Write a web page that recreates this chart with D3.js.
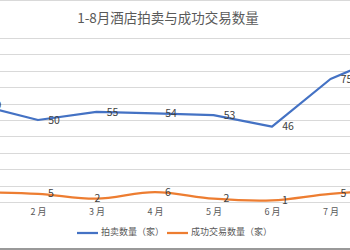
<!DOCTYPE html>
<html><head><meta charset="utf-8">
<script src="https://cdn.jsdelivr.net/npm/d3@7"></script>
<style>body{margin:0;background:#fff;}svg{display:block;}</style>
</head><body>
<svg id="c" width="350" height="250"></svg>
<script>
const title = "1-8月酒店拍卖与成功交易数量";
const months = ["1月","2月","3月","4月","5月","6月","7月","8月"];
const auctions = [59, 50, 55, 54, 53, 46, 75, 90];
const deals = [6, 5, 2, 6, 2, 1, 5, 7];
const seriesNames = ["拍卖数量（家）", "成功交易数量（家）"];
const yTicks = [0,10,20,30,40,50,60,70,80,90,100];

const svg = d3.select("#c");
const font = "'Noto Sans CJK SC','Noto Sans',sans-serif";
const x = d3.scalePoint().domain(months).range([-20.5, 389]);
const y = d3.scaleLinear().domain([0, 100]).range([202, 38]);

// top border
svg.append("line").attr("x1",0).attr("x2",350).attr("y1",0.5).attr("y2",0.5).attr("stroke","#d9d9d9");
// gridlines
svg.append("g").selectAll("line").data(yTicks).join("line")
  .attr("x1",0).attr("x2",350)
  .attr("y1",d=>Math.round(y(d))+0.5).attr("y2",d=>Math.round(y(d))+0.5)
  .attr("stroke","#d9d9d9").attr("stroke-width",1);

// x axis (only months whose labels fall inside the visible crop)
const visibleMonths = months.filter(m => x(m) > 10 && x(m) < 340);
const xa = svg.append("g").attr("transform","translate(0,202)")
  .call(d3.axisBottom(x).tickValues(visibleMonths).tickSize(0).tickPadding(7).tickFormat(d=>d.replace("月"," 月")));
xa.select(".domain").attr("stroke","#d9d9d9");
xa.selectAll("text").attr("font-family",font).attr("font-size",9).attr("fill","#595959");

// title
svg.append("text").attr("x",168).attr("y",23).attr("text-anchor","middle")
  .attr("font-family",font).attr("font-size",13.5).attr("fill","#595959").text(title);

const blue = "#4472C4", orange = "#ED7D31";
const lineB = d3.line().x((d,i)=>x(months[i])).y(d=>y(d));
const lineO = d3.line().x((d,i)=>x(months[i])).y(d=>y(d)).curve(d3.curveCatmullRom.alpha(0.5));

svg.append("path").datum(auctions).attr("d",lineB).attr("fill","none")
  .attr("stroke",blue).attr("stroke-width",2.25).attr("stroke-linejoin","round");
svg.append("path").datum(deals).attr("d",lineO).attr("fill","none")
  .attr("stroke",orange).attr("stroke-width",2.25).attr("stroke-linejoin","round");

// labels
svg.append("g").selectAll("text").data(auctions).join("text")
  .attr("x",(d,i)=>x(months[i])+16).attr("y",d=>y(d)+1)
  .attr("dominant-baseline","middle").attr("text-anchor","middle")
  .attr("font-family",font).attr("font-size",10.5).attr("fill","#404040").text(d=>d);
svg.append("g").selectAll("text").data(deals).join("text")
  .attr("x",(d,i)=>x(months[i])+(i===2?1:13)).attr("y",d=>y(d)+0.5)
  .attr("dominant-baseline","middle").attr("text-anchor","middle")
  .attr("font-family",font).attr("font-size",10.5).attr("fill","#404040").text(d=>d);

// legend
const leg = [{n:seriesNames[0],c:blue,x:77},{n:seriesNames[1],c:orange,x:167}];
const lg = svg.append("g").selectAll("g").data(leg).join("g").attr("transform",d=>`translate(${d.x},233)`);
lg.append("line").attr("x1",0).attr("x2",21).attr("stroke",d=>d.c).attr("stroke-width",2.25);
lg.append("text").attr("x",24).attr("dominant-baseline","middle")
  .attr("font-family",font).attr("font-size",9).attr("fill","#595959").text(d=>d.n);

// bottom frame
svg.append("rect").attr("x",0).attr("y",248).attr("width",350).attr("height",2).attr("fill","#999");
</script>
</body></html>
